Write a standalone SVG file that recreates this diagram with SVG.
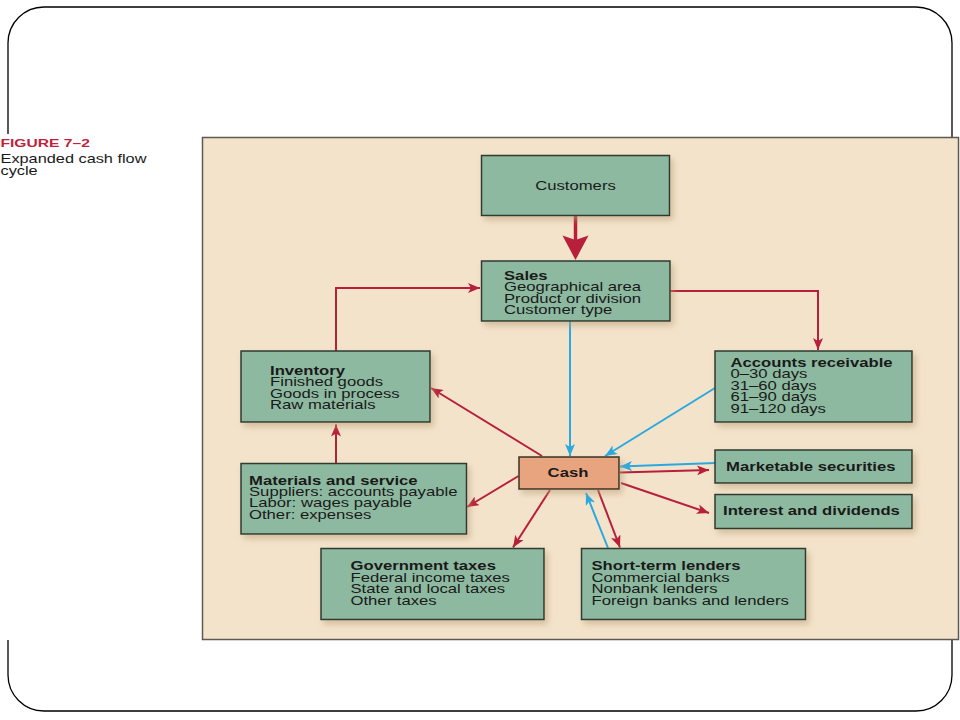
<svg xmlns="http://www.w3.org/2000/svg" width="960" height="720" viewBox="0 0 960 720">
<defs>
<style>
.t{font-family:"Liberation Sans",Arial,Helvetica,sans-serif;font-size:12px;fill:#1a1a1a}
.b{font-weight:bold}
.box{fill:#8db9a0;stroke:#2e3a32;stroke-width:1.5;filter:url(#sh)}
.cash{fill:#e7a47f;stroke:#3a3026;stroke-width:1.5;filter:url(#sh)}
.r{stroke:#b71f3a;stroke-width:2;fill:none;marker-end:url(#ar)}
.bl{stroke:#29a9e0;stroke-width:2;fill:none;marker-end:url(#ab)}
</style>
<filter id="sh" x="-10%" y="-20%" width="125%" height="150%">
<feDropShadow dx="3" dy="4" stdDeviation="3" flood-color="#b99e76" flood-opacity="0.55"/>
</filter>
<marker id="ar" markerUnits="userSpaceOnUse" markerWidth="13" markerHeight="10" refX="12" refY="5" orient="auto" viewBox="0 0 13 10">
<path d="M0,0 L12,5 L0,10 L3,5 Z" fill="#b71f3a"/>
</marker>
<marker id="ab" markerUnits="userSpaceOnUse" markerWidth="13" markerHeight="10" refX="12" refY="5" orient="auto" viewBox="0 0 13 10">
<path d="M0,0 L12,5 L0,10 L3,5 Z" fill="#29a9e0"/>
</marker>
</defs>
<rect width="960" height="720" fill="#ffffff"/>
<rect x="8" y="7" width="944" height="704" rx="36" fill="none" stroke="#000000" stroke-width="1.3"/>
<rect x="0" y="134" width="203" height="506" fill="#ffffff"/>
<g id="caption">
<text class="t b" transform="translate(0.5,147.3) scale(1.42,1)" style="font-size:11px;fill:#c0223b">FIGURE 7–2</text>
<text class="t" transform="translate(0.5,163.3) scale(1.36,1)">Expanded cash flow</text>
<text class="t" transform="translate(0.5,175.3) scale(1.36,1)">cycle</text>
</g>
<rect x="202.5" y="137.5" width="756" height="502" fill="#f3e3cb" stroke="#5e5a50" stroke-width="1.5"/>

<g id="connectors">
<line x1="575.5" y1="216" x2="575.5" y2="240" stroke="#b71f3a" stroke-width="3.5"/>
<path d="M562.5,235.5 L575.5,240 L588.5,235.5 L575.5,260 Z" fill="#b71f3a"/>
<line class="bl" x1="570" y1="321" x2="570" y2="456"/>
<line class="bl" x1="715" y1="388" x2="605" y2="456"/>
<line class="r" x1="542" y1="456" x2="431" y2="388"/>
<line class="bl" x1="715" y1="463" x2="620" y2="466.5"/>
<line class="r" x1="620" y1="472.5" x2="709" y2="470"/>
<line class="r" x1="621" y1="483" x2="709" y2="513"/>
<line class="r" x1="518.5" y1="476" x2="467" y2="507"/>
<line class="r" x1="550" y1="490" x2="513" y2="547.5"/>
<line class="bl" x1="608" y1="548" x2="586" y2="493"/>
<line class="r" x1="598" y1="490" x2="620" y2="547.5"/>
<polyline class="r" points="336,351 336,288 480,288"/>
<polyline class="r" points="670,291 818,291 818,350"/>
<line class="r" x1="336" y1="463" x2="336" y2="424.5"/>
</g>

<g id="customers">
<rect class="box" x="481.5" y="155.5" width="188" height="60"/>
<text class="t" text-anchor="middle" transform="translate(575.5,190) scale(1.39,1)">Customers</text>
</g>
<g id="sales">
<rect class="box" x="481.5" y="261" width="188.5" height="60"/>
<g transform="translate(504,280) scale(1.39,1)">
<text class="t b" y="0">Sales</text>
<text class="t" y="11.3">Geographical area</text>
<text class="t" y="22.6">Product or division</text>
<text class="t" y="33.9">Customer type</text>
</g>
</g>
<g id="inventory">
<rect class="box" x="241" y="351" width="189" height="71"/>
<g transform="translate(270,375) scale(1.39,1)">
<text class="t b" y="0">Inventory</text>
<text class="t" y="11.5">Finished goods</text>
<text class="t" y="23">Goods in process</text>
<text class="t" y="34.5">Raw materials</text>
</g>
</g>
<g id="accounts-receivable">
<rect class="box" x="715" y="351" width="197" height="71"/>
<g transform="translate(730.5,366.7) scale(1.39,1)">
<text class="t b" y="0">Accounts receivable</text>
<text class="t" y="11.5">0–30 days</text>
<text class="t" y="23">31–60 days</text>
<text class="t" y="34.5">61–90 days</text>
<text class="t" y="46">91–120 days</text>
</g>
</g>
<g id="cash">
<rect class="cash" x="519" y="457" width="100" height="32"/>
<text class="t b" text-anchor="middle" transform="translate(568,477) scale(1.39,1)">Cash</text>
</g>
<g id="marketable-securities">
<rect class="box" x="715" y="450" width="197" height="33"/>
<text class="t b" transform="translate(726,471) scale(1.39,1)">Marketable securities</text>
</g>
<g id="interest-dividends">
<rect class="box" x="715" y="494.5" width="197" height="34"/>
<text class="t b" transform="translate(723,514.5) scale(1.39,1)">Interest and dividends</text>
</g>
<g id="materials-service">
<rect class="box" x="241" y="463.5" width="225.5" height="70.5"/>
<g transform="translate(249,484.5) scale(1.39,1)">
<text class="t b" y="0">Materials and service</text>
<text class="t" y="11.5">Suppliers: accounts payable</text>
<text class="t" y="23">Labor: wages payable</text>
<text class="t" y="34.5">Other: expenses</text>
</g>
</g>
<g id="government-taxes">
<rect class="box" x="321" y="548.5" width="223" height="71"/>
<g transform="translate(350.5,570) scale(1.39,1)">
<text class="t b" y="0">Government taxes</text>
<text class="t" y="11.7">Federal income taxes</text>
<text class="t" y="23.4">State and local taxes</text>
<text class="t" y="35.1">Other taxes</text>
</g>
</g>
<g id="short-term-lenders">
<rect class="box" x="581.5" y="548.5" width="224" height="71"/>
<g transform="translate(591.5,570) scale(1.39,1)">
<text class="t b" y="0">Short-term lenders</text>
<text class="t" y="11.7">Commercial banks</text>
<text class="t" y="23.4">Nonbank lenders</text>
<text class="t" y="35.1">Foreign banks and lenders</text>
</g>
</g>
</svg>
